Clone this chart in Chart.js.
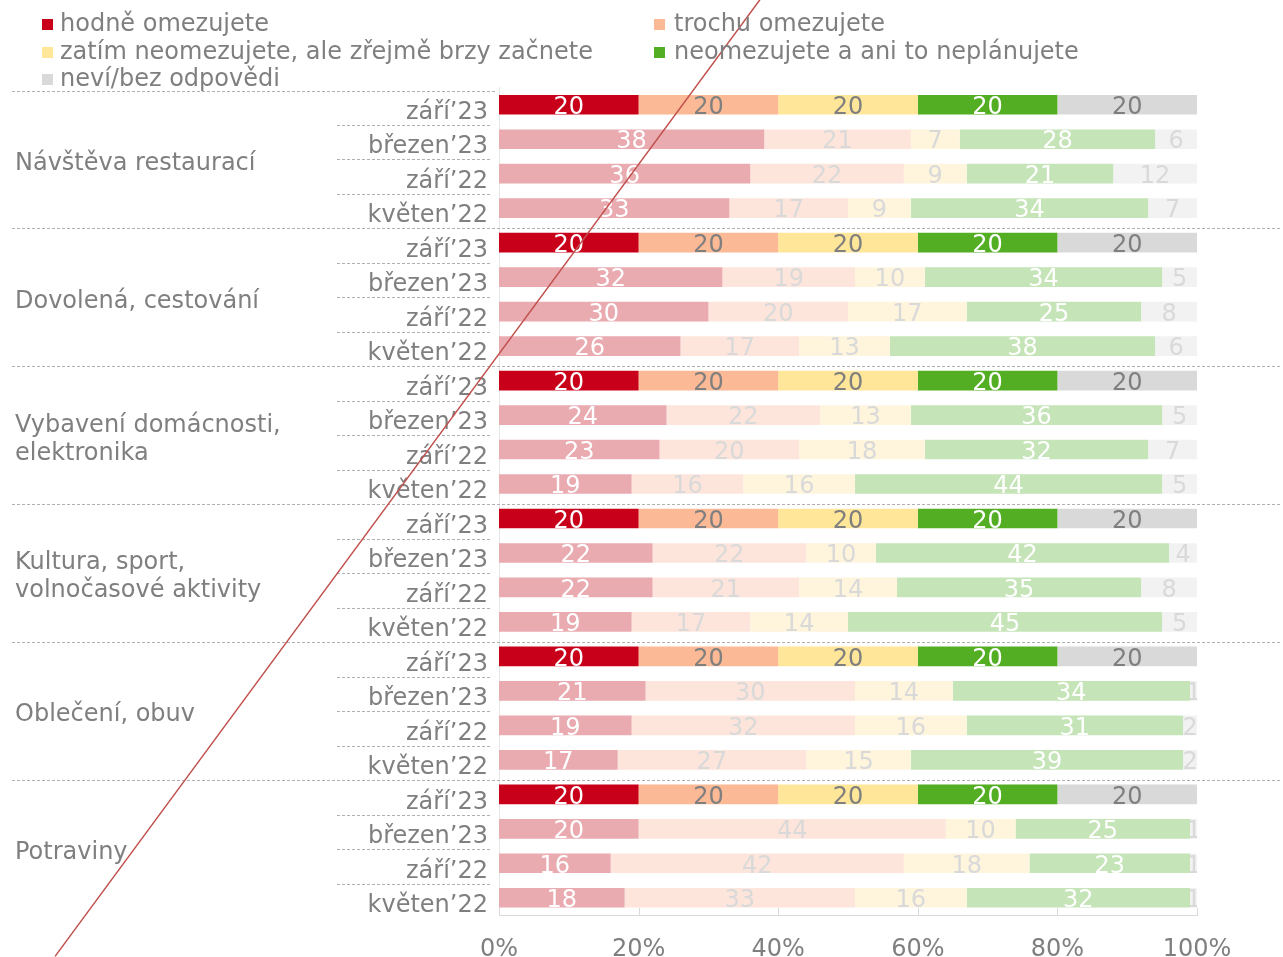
<!DOCTYPE html>
<html>
<head>
<meta charset="utf-8">
<script src="https://cdn.jsdelivr.net/npm/chart.js@4.4.1/dist/chart.umd.min.js"></script>
<style>
  body { margin: 0; background: #fff; }
  #wrap { position: relative; width: 1283px; height: 957px; overflow: hidden; }
  #chart { position: absolute; left: 0; top: 0; }
  .legend-item { position: absolute; height: 28px; line-height: 28px; font: 24px "DejaVu Sans", Verdana, sans-serif; color: #7f7f7f; white-space: nowrap; }
  .legend-item span.box { display: inline-block; width: 11px; height: 11px; margin-right: 7px; vertical-align: 1px; }
</style>
</head>
<body>
<div id="wrap">
  <canvas id="chart" width="1283" height="957"></canvas>
</div>
<script>
// groups (categories) and periods (rows inside each group)
const groups = ['Návštěva restaurací', 'Dovolená, cestování', ['Vybavení domácnosti,', 'elektronika'],
    ['Kultura, sport,', 'volnočasové aktivity'], 'Oblečení, obuv', 'Potraviny']
const periods = ['září’23', 'březen’23', 'září’22', 'květen’22']

const seriesNames = ['hodně omezujete', 'trochu omezujete', 'zatím neomezujete, ale zřejmě brzy začnete',
    'neomezujete a ani to neplánujete', 'neví/bez odpovědi']

// values per series, 4 rows per group in the order of `periods`
const hodne       = [20, 38, 36, 33,  20, 32, 30, 26,  20, 24, 23, 19,  20, 22, 22, 19,  20, 21, 19, 17,  20, 20, 16, 18]
const trochu      = [20, 21, 22, 17,  20, 19, 20, 17,  20, 22, 20, 16,  20, 22, 21, 17,  20, 30, 32, 27,  20, 44, 42, 33]
const zatim       = [20,  7,  9,  9,  20, 10, 17, 13,  20, 13, 18, 16,  20, 10, 14, 14,  20, 14, 16, 15,  20, 10, 18, 16]
const neomezujete = [20, 28, 21, 34,  20, 34, 25, 38,  20, 36, 32, 44,  20, 42, 35, 45,  20, 34, 31, 39,  20, 25, 23, 32]
const nevi        = [20,  6, 12,  7,  20,  5,  8,  6,  20,  5,  7,  5,  20,  4,  8,  5,  20,  1,  2,  2,  20,  1,  1,  1]

const xTicks = [0, 20, 40, 60, 80, 100]

// the red diagonal stroke across the picture: x in % units, y in row index units (row centres are 0..23)
const diagonalX = [-63.6, 37.4]
const diagonalY = [24.7, -3.05]

const seriesValues = [hodne, trochu, zatim, neomezujete, nevi]
const fullColors  = ['#C9001A', '#FCB995', '#FFE699', '#53AE24', '#D9D9D9']
const fadeColors  = ['#E9AAB0', '#FDE5DB', '#FFF5DD', '#C5E4B7', '#F2F2F2']
const fullText    = ['#ffffff', '#7f7f7f', '#7f7f7f', '#ffffff', '#7f7f7f']
const fadeText    = ['#ffffff', '#d9d9d9', '#d9d9d9', '#ffffff', '#d9d9d9']

const rowLabels = groups.flatMap(() => periods)
const FONT = '"DejaVu Sans", Verdana, sans-serif'
const GRAY = '#7f7f7f'

// legend (html)
const wrap = document.getElementById('wrap')
seriesNames.forEach((name, i) => {
    const item = document.createElement('div')
    item.className = 'legend-item'
    item.style.left = (i % 2 === 0 ? 42 : 654) + 'px'
    item.style.top = (9 + Math.floor(i / 2) * 27.5) + 'px'
    item.innerHTML = `<span class="box" style="background:${fullColors[i]}${i % 2 ? ';margin-right:9px' : ''}"></span>${name}`
    wrap.appendChild(item)
})

const datasets = seriesValues.map((vals, s) => ({
    label: seriesNames[s],
    data: vals,
    backgroundColor: (c) => (c.dataIndex % 4 === 0 ? fullColors[s] : fadeColors[s]),
    borderWidth: 0,
    categoryPercentage: 1,
    barPercentage: 0.57,
}))

const sideLabels = {
    id: 'sideLabels',
    beforeDatasetsDraw(chart) {
        const { ctx, chartArea } = chart
        const ya = chart.scales.y
        const rowH = (ya.bottom - ya.top) / rowLabels.length
        ctx.save()
        ctx.strokeStyle = '#b0b0b0'
        ctx.lineWidth = 1
        ctx.setLineDash([3, 2])
        for (let k = 0; k <= rowLabels.length - 1; k++) {
            const y = Math.round(ya.top + k * rowH + 3) + 0.5
            ctx.beginPath()
            if (k % 4 === 0) {
                ctx.moveTo(12, y)
                ctx.lineTo(k === 0 ? 497 : 1280, y)
            } else {
                ctx.moveTo(337, y)
                ctx.lineTo(492, y)
            }
            ctx.stroke()
        }
        ctx.setLineDash([])
        // inside tick marks on the bottom axis
        const xa = chart.scales.x
        ctx.strokeStyle = '#d9d9d9'
        xTicks.forEach(v => {
            const x = Math.round(xa.getPixelForValue(v)) + 0.5
            ctx.beginPath()
            ctx.moveTo(x, chartArea.bottom - 7)
            ctx.lineTo(x, chartArea.bottom)
            ctx.stroke()
        })
        // group names
        ctx.fillStyle = GRAY
        ctx.font = '24px ' + FONT
        ctx.textAlign = 'left'
        ctx.textBaseline = 'middle'
        groups.forEach((g, i) => {
            const cy = ya.top + (i * 4 + 2) * rowH + 7
            const lines = Array.isArray(g) ? g : [g]
            lines.forEach((t, j) => {
                ctx.fillText(t, 15, cy + (j - (lines.length - 1) / 2) * 28)
            })
        })
        ctx.restore()
    },
    afterDatasetDraw(chart, args) {
        const { ctx, chartArea } = chart
        const s = args.index
        ctx.save()
        ctx.beginPath()
        ctx.rect(chartArea.left, chartArea.top, chartArea.right - chartArea.left, chartArea.bottom - chartArea.top)
        ctx.clip()
        ctx.font = '24px ' + FONT
        ctx.textAlign = 'center'
        ctx.textBaseline = 'middle'
        args.meta.data.forEach((bar, i) => {
            ctx.fillStyle = i % 4 === 0 ? fullText[s] : fadeText[s]
            ctx.fillText(String(seriesValues[s][i]), (bar.x + bar.base) / 2, bar.y + 3)
        })
        ctx.restore()
    },
    afterDatasetsDraw(chart) {
        // diagonal stroke, placed through the chart's own scales
        const { ctx } = chart
        const xa = chart.scales.x, ya = chart.scales.y
        ctx.save()
        ctx.strokeStyle = '#C0504D'
        ctx.lineWidth = 1.5
        ctx.beginPath()
        diagonalX.forEach((v, i) => {
            const px = xa.getPixelForValue(v), py = ya.getPixelForValue(diagonalY[i])
            if (i === 0) ctx.moveTo(px, py)
            else ctx.lineTo(px, py)
        })
        ctx.stroke()
        ctx.restore()
    }
}

new Chart(document.getElementById('chart'), {
    type: 'bar',
    data: { labels: rowLabels, datasets: datasets },
    options: {
        indexAxis: 'y',
        responsive: false,
        animation: false,
        layout: { padding: { top: 87.5, right: 86, left: 0, bottom: 0 } },
        scales: {
            x: {
                type: 'linear',
                stacked: true,
                min: 0,
                max: 100,
                afterBuildTicks: (scale) => { scale.ticks = xTicks.map(v => ({ value: v })) },
                afterFit: (scale) => { scale.height = 42 },
                grid: { display: false },
                border: { color: '#d9d9d9' },
                ticks: {
                    color: GRAY,
                    font: { family: FONT, size: 24 },
                    padding: 12,
                    callback: (v) => v + '%'
                }
            },
            y: {
                stacked: true,
                afterFit: (scale) => { scale.width = 499 },
                grid: { display: false, drawTicks: false },
                border: { color: '#e6e6e6' },
                ticks: {
                    color: GRAY,
                    font: { family: FONT, size: 24 },
                    padding: 11,
                    labelOffset: 8,
                    autoSkip: false
                }
            }
        },
        plugins: {
            legend: { display: false },
            tooltip: { enabled: false }
        }
    },
    plugins: [sideLabels]
})
</script>
</body>
</html>
